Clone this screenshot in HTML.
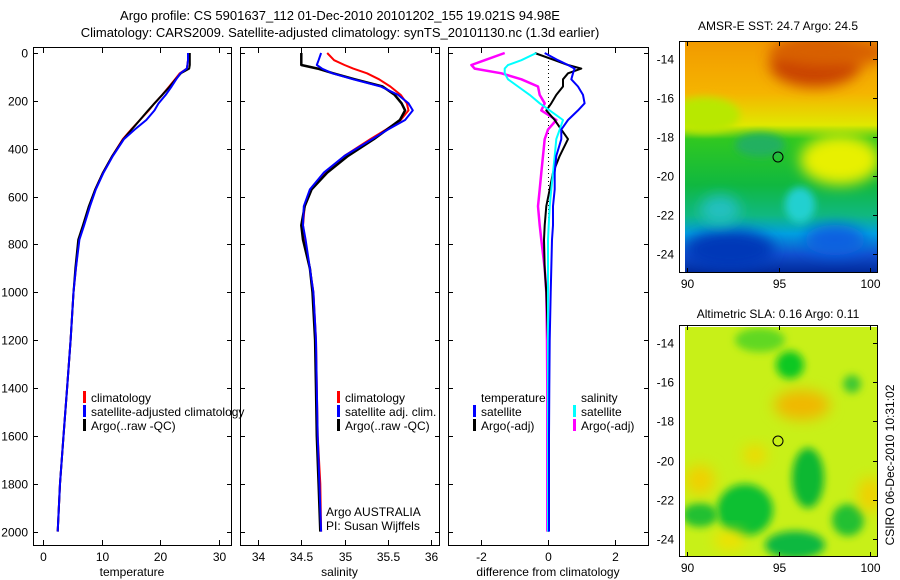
<!DOCTYPE html>
<html><head><meta charset="utf-8"><style>
body{margin:0;background:#fff;}
svg{display:block;font-family:"Liberation Sans",sans-serif;}
text{fill:#000;}
</style></head><body>
<svg id="c" width="900" height="580" viewBox="0 0 900 580">
<defs>
<filter id="bl" x="-50%" y="-50%" width="200%" height="200%"><feGaussianBlur stdDeviation="7"/></filter>
<filter id="bl2" x="-50%" y="-50%" width="200%" height="200%"><feGaussianBlur stdDeviation="4"/></filter>
<clipPath id="m1"><rect x="685" y="42" width="192" height="231"/></clipPath>
<clipPath id="m2"><rect x="685" y="327" width="192" height="229"/></clipPath>
<linearGradient id="sstg" x1="0" y1="0" x2="0" y2="1">
<stop offset="0" stop-color="#f29a00"/><stop offset="0.22" stop-color="#f5b400"/><stop offset="0.36" stop-color="#e0e800"/>
<stop offset="0.42" stop-color="#30c820"/><stop offset="0.62" stop-color="#10b840"/><stop offset="0.75" stop-color="#10b880"/>
<stop offset="0.83" stop-color="#00a0e0"/><stop offset="0.92" stop-color="#1050d0"/><stop offset="1" stop-color="#002898"/>
</linearGradient>
</defs>
<text x="340" y="20" font-size="13" text-anchor="middle">Argo profile: CS 5901637_112 01-Dec-2010 20101202_155 19.021S 94.98E</text>
<text x="340" y="37" font-size="13" text-anchor="middle">Climatology: CARS2009. Satellite-adjusted climatology: synTS_20101130.nc (1.3d earlier)</text>

<g>
<g clip-path="url(#m1)">
<rect x="685" y="42" width="192" height="231" fill="url(#sstg)"/>
<ellipse cx="815" cy="65" rx="45" ry="22" fill="#c84000" filter="url(#bl)"/>
<ellipse cx="830" cy="52" rx="60" ry="15" fill="#d86000" filter="url(#bl)"/>
<ellipse cx="705" cy="115" rx="35" ry="18" fill="#b8e800" filter="url(#bl2)"/>
<ellipse cx="840" cy="160" rx="40" ry="25" fill="#e8f000" filter="url(#bl)"/>
<ellipse cx="760" cy="145" rx="25" ry="12" fill="#20b060" filter="url(#bl2)"/>
<ellipse cx="800" cy="205" rx="15" ry="18" fill="#20d0d0" filter="url(#bl2)"/>
<ellipse cx="730" cy="250" rx="45" ry="20" fill="#0038b8" filter="url(#bl)"/>
<ellipse cx="835" cy="240" rx="30" ry="15" fill="#1060e0" filter="url(#bl)"/>
<ellipse cx="720" cy="210" rx="20" ry="15" fill="#20c0c0" filter="url(#bl)"/>
</g>
<rect x="679.5" y="41.5" width="198" height="231" fill="none" stroke="#000"/>
<circle cx="778" cy="157" r="5" fill="none" stroke="#000"/>
</g>
<text x="778" y="30" font-size="12" text-anchor="middle">AMSR-E SST: 24.7 Argo: 24.5</text>

<g>
<g clip-path="url(#m2)">
<rect x="685" y="327" width="192" height="229" fill="#c8f018"/>
<ellipse cx="760" cy="340" rx="25" ry="12" fill="#60d820" filter="url(#bl2)"/>
<ellipse cx="790" cy="365" rx="14" ry="14" fill="#10c820" filter="url(#bl2)"/>
<ellipse cx="802" cy="405" rx="28" ry="15" fill="#f0b800" filter="url(#bl)"/>
<ellipse cx="852" cy="384" rx="9" ry="9" fill="#40c830" filter="url(#bl2)"/>
<ellipse cx="808" cy="478" rx="16" ry="30" fill="#10b830" filter="url(#bl2)"/>
<ellipse cx="745" cy="510" rx="28" ry="26" fill="#10c030" filter="url(#bl2)"/>
<ellipse cx="795" cy="545" rx="30" ry="14" fill="#10b840" filter="url(#bl2)"/>
<ellipse cx="700" cy="515" rx="18" ry="12" fill="#20c030" filter="url(#bl2)"/>
<ellipse cx="848" cy="520" rx="16" ry="16" fill="#20c030" filter="url(#bl2)"/>
<ellipse cx="700" cy="480" rx="15" ry="15" fill="#f0d000" filter="url(#bl)"/>
<ellipse cx="870" cy="495" rx="12" ry="18" fill="#f0d000" filter="url(#bl)"/>
<ellipse cx="755" cy="455" rx="12" ry="10" fill="#f0d800" filter="url(#bl)"/>
<ellipse cx="730" cy="540" rx="16" ry="10" fill="#f0e000" filter="url(#bl)"/>
</g>
<rect x="679.5" y="325.5" width="198" height="231" fill="none" stroke="#000"/>
<circle cx="778" cy="441" r="5" fill="none" stroke="#000"/>
</g>
<text x="778" y="318" font-size="12" text-anchor="middle">Altimetric SLA: 0.16 Argo: 0.11</text>
<text transform="translate(894,465) rotate(-90)" font-size="12" text-anchor="middle">CSIRO 06-Dec-2010 10:31:02</text>
<g id="dyn"></g>
</svg>
<script>
const depths=[0,30,50,65,85,110,140,175,210,240,280,320,360,430,500,570,640,720,780,900,1000,1200,1400,1600,1800,2000];
const tempClim=[24.7,24.7,24.6,24.5,23.3,22.5,21.5,20.3,19.0,18.0,16.5,15.0,13.6,11.8,10.2,8.9,7.9,6.9,6.1,5.6,5.2,4.7,4.1,3.5,2.9,2.5];
const tempSat=[24.7,24.7,24.6,24.5,23.4,22.7,21.9,20.9,19.7,19.0,17.6,15.6,13.8,11.9,10.3,9.0,8.0,7.0,6.2,5.6,5.2,4.7,4.1,3.5,2.9,2.5];
const tempArgo=[25.0,25.0,25.0,24.9,23.5,22.6,21.6,20.3,19.0,17.9,16.5,15.1,13.7,11.8,10.2,8.9,7.8,6.8,6.0,5.5,5.2,4.7,4.1,3.5,2.9,2.5];
const salClim=[34.80,34.88,35.00,35.10,35.26,35.40,35.53,35.65,35.72,35.74,35.65,35.48,35.30,35.00,34.78,34.62,34.54,34.52,34.54,34.60,34.64,34.67,34.68,34.69,34.72,34.73];
const salSat=[34.73,34.70,34.68,34.74,34.86,35.10,35.42,35.62,35.74,35.79,35.70,35.50,35.32,35.00,34.76,34.60,34.53,34.52,34.55,34.60,34.64,34.67,34.68,34.69,34.71,34.73];
const salArgo=[34.50,34.50,34.50,34.69,34.87,35.12,35.44,35.58,35.66,35.70,35.64,35.49,35.34,35.04,34.80,34.62,34.54,34.50,34.52,34.60,34.63,34.66,34.67,34.68,34.70,34.72];
const dTempSat=[-0.1,0.3,0.6,0.8,0.75,0.7,0.9,1.05,1.1,0.9,0.6,0.4,0.4,0.25,0.2,0.2,0.15,0.15,0.12,0.1,0.08,0.05,0.04,0.03,0.03,0.03];
const dTempArgo=[-0.4,0.2,0.6,1.0,0.6,0.45,0.45,0.25,0.1,-0.05,0.2,0.4,0.6,0.35,0.15,0.05,-0.05,-0.1,-0.12,-0.1,-0.05,0.0,0.02,0.0,0.0,0.0];
const dSalSat=[-0.35,-0.8,-1.2,-1.3,-1.3,-1.2,-0.9,-0.55,-0.25,0.05,0.45,0.35,0.25,0.2,0.15,0.1,0.05,0.02,0,0,0,0,0,0,0,0];
const dSalArgo=[-1.3,-1.9,-2.3,-2.2,-1.4,-0.8,-0.3,-0.25,-0.1,-0.2,0.25,0.0,-0.1,-0.15,-0.2,-0.25,-0.3,-0.25,-0.2,-0.1,-0.05,-0.03,-0.02,-0.02,-0.02,-0.02];
const depthTicks=[0,200,400,600,800,1000,1200,1400,1600,1800,2000];
const tempTicks=[0,10,20,30];
const salTicks=[34,34.5,35,35.5,36];
const diffTicks=[-2,0,2];
const sstLatTicks=[-14,-16,-18,-20,-22,-24];
const lonTicks=[90,95,100];

const NS='http://www.w3.org/2000/svg';
const g=document.getElementById('dyn');
function mk(tag,at,parent){const e=document.createElementNS(NS,tag);for(const k in at)e.setAttribute(k,at[k]);(parent||g).appendChild(e);return e;}
function yD(d){return 53+d*0.2393;}
const panels=[
 {x0:33,x1:231,sx:v=>43+v*5.87,ticks:tempTicks,label:'temperature',name:'temperature-panel'},
 {x0:240,x1:439,sx:v=>258+(v-34)*86.5,ticks:salTicks,label:'salinity',name:'salinity-panel'},
 {x0:448,x1:648,sx:v=>548+v*33.3,ticks:diffTicks,label:'difference from climatology',name:'difference-panel'}
];
panels.forEach((p,pi)=>{
 const pg=mk('g',{});
 
 
 mk('rect',{x:p.x0+0.5,y:47.5,width:p.x1-p.x0,height:498,fill:'none',stroke:'#000'},pg);
 depthTicks.forEach(d=>{const y=Math.round(yD(d))+0.5;
  mk('line',{x1:p.x0,x2:p.x0+5,y1:y,y2:y,stroke:'#000'},pg);
  mk('line',{x1:p.x1-4,x2:p.x1+1,y1:y,y2:y,stroke:'#000'},pg);
  if(pi===0){const t=mk('text',{x:p.x0-5,y:y+4,'font-size':12,'text-anchor':'end'},pg);t.textContent=d;
   
   }
 });
 p.ticks.forEach(v=>{const x=Math.round(p.sx(v))+0.5;
  mk('line',{x1:x,x2:x,y1:540,y2:546,stroke:'#000'},pg);
  mk('line',{x1:x,x2:x,y1:47,y2:53,stroke:'#000'},pg);
  const t=mk('text',{x:x,y:561,'font-size':12,'text-anchor':'middle'},pg);t.textContent=v;
  
  
 });
 const xl=mk('text',{x:(p.x0+p.x1)/2,y:576,'font-size':12,'text-anchor':'middle'},pg);xl.textContent=p.label;
 
 
 p.g=pg;
});
function line(p,vals,color,w,name){
 const pts=vals.map((v,i)=>p.sx(v).toFixed(1)+','+yD(depths[i]).toFixed(1)).join(' ');
 const e=mk('polyline',{points:pts,fill:'none',stroke:color,'stroke-width':w,'stroke-linejoin':'round'},p.g);
 
 
}
// zero line
const z=Math.round(panels[2].sx(0))+0.5;
const zl=mk('line',{x1:z,x2:z,y1:53,y2:230,stroke:'#000','stroke-dasharray':'1,3'},panels[2].g);


line(panels[0],tempClim,'#ff0000',2,'temp-climatology-line');
line(panels[0],tempArgo,'#000000',2,'temp-argo-line');
line(panels[0],tempSat,'#0000ff',2,'temp-satellite-line');
line(panels[1],salClim,'#ff0000',2,'sal-climatology-line');
line(panels[1],salArgo,'#000000',2.5,'sal-argo-line');
line(panels[1],salSat,'#0000ff',2,'sal-satellite-line');
line(panels[2],dSalArgo,'#ff00ff',2.5,'diff-sal-argo-line');
line(panels[2],dTempArgo,'#000000',2,'diff-temp-argo-line');
line(panels[2],dSalSat,'#00ffff',2,'diff-sal-satellite-line');
line(panels[2],dTempSat,'#0000ff',2,'diff-temp-satellite-line');

function leg(x,y,color,text,name){
 const lg=mk('g',{});
 
 
 if(color) mk('rect',{x:x,y:y-11,width:3,height:12,fill:color},lg);
 const t=mk('text',{x:x+8,y:y,'font-size':12},lg);t.textContent=text;
}
leg(83,402,'#ff0000','climatology','legend-climatology');
leg(83,416,'#0000ff','satellite-adjusted climatology','legend-satellite-adjusted');
leg(83,430,'#000000','Argo(..raw -QC)','legend-argo');
leg(337,402,'#ff0000','climatology','legend-sal-climatology');
leg(337,416,'#0000ff','satellite adj. clim.','legend-sal-satellite');
leg(337,430,'#000000','Argo(..raw -QC)','legend-sal-argo');
leg(473,402,null,'temperature','legend-temperature-header');
leg(473,416,'#0000ff','satellite','legend-temp-satellite');
leg(473,430,'#000000','Argo(-adj)','legend-temp-argo');
leg(573,402,null,'salinity','legend-salinity-header');
leg(573,416,'#00ffff','satellite','legend-sal-sat');
leg(573,430,'#ff00ff','Argo(-adj)','legend-sal-argo-adj');
const a1=mk('text',{x:326,y:516,'font-size':12});a1.textContent='Argo AUSTRALIA';


const a2=mk('text',{x:326,y:530,'font-size':12});a2.textContent='PI: Susan Wijffels';



// map axes
[[59,39],[343,39.2]].forEach(([y0,dy],mi)=>{
 sstLatTicks.forEach((v,i)=>{const y=Math.round(y0+i*dy)+0.5;
  mk('line',{x1:873,x2:878,y1:y,y2:y,stroke:'#000'});
  const t=mk('text',{x:674,y:y+4,'font-size':12,'text-anchor':'end'});t.textContent=v;
  
  
 });
 const yb=mi?556:272, yt=mi?326:42;
 lonTicks.forEach((v,i)=>{const x=Math.round(687+i*91.5)+0.5;
  mk('line',{x1:x,x2:x,y1:yb-4,y2:yb+1,stroke:'#000'});
  mk('line',{x1:x,x2:x,y1:yt,y2:yt+4,stroke:'#000'});
  const t=mk('text',{x:x,y:yb+16,'font-size':12,'text-anchor':'middle'});t.textContent=v;
  
  
 });
});
</script>
</body></html>
